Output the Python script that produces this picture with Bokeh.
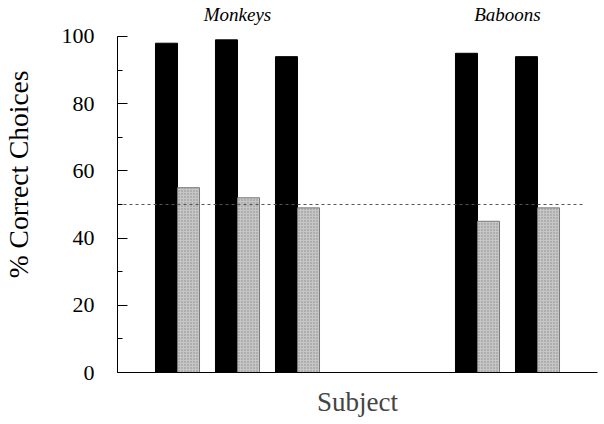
import numpy as np
from bokeh.plotting import figure
from bokeh.models import Range1d, SingleIntervalTicker, FixedTicker, ColumnDataSource, Title
from bokeh.embed import file_html
from bokeh.resources import INLINE

# ---- data ----
groups = ["Monkeys", "Baboons"]
monkey_subjects = ["M1", "M2", "M3"]
baboon_subjects = ["B1", "B2"]
condition_a = [98, 99, 94, 95, 94]   # black bars
condition_b = [55, 52, 49, 45, 49]   # stippled bars
chance_level = 50
y_ticks = [0, 20, 40, 60, 80, 100]

# ---- layout (subject slots, two empty slots between groups) ----
gap_slots = 2
n_m, n_b = len(monkey_subjects), len(baboon_subjects)
x_m = np.arange(1, n_m + 1)
x_b = np.arange(n_m + gap_slots + 1, n_m + gap_slots + 1 + n_b)
xs = np.concatenate([x_m, x_b]).astype(float)
bar_w = 0.367

src = ColumnDataSource(dict(
    subject=monkey_subjects + baboon_subjects,
    xa=xs - bar_w / 2, xb=xs + bar_w / 2,
    a=condition_a, b=condition_b,
))

SERIF = "Liberation Serif"

p = figure(width=604, height=424, output_backend="svg", toolbar_location=None,
           x_range=Range1d(0, 8), y_range=Range1d(0, 110.71),
           min_border_left=117, min_border_right=7, min_border_top=0,
           min_border_bottom=52)
p.outline_line_color = None
p.grid.visible = False
p.background_fill_color = "white"

p.vbar(x="xa", top="a", width=bar_w, source=src, fill_color="black",
       line_color="black")
p.vbar(x="xb", top="b", width=bar_w, source=src, fill_color="#c6c6c6",
       line_color="#7a7a7a", line_width=1,
       hatch_pattern="dot", hatch_color="#8a8a8a", hatch_scale=3, hatch_weight=1)

# chance line
p.line(x=[0, xs[-1] + 0.77], y=[chance_level, chance_level], line_color="#555555",
       line_dash="3 3", line_width=1)

# group labels
gx = [float(np.mean(x_m)), float(np.mean(x_b))]
p.text(x=gx, y=[106.5, 106.5], text=groups, text_font={"value": SERIF},
       text_font_style="italic", text_font_size="19px", text_align="center",
       text_baseline="middle", text_color="black")

# y axis
ya = p.yaxis[0]
ya.ticker = SingleIntervalTicker(interval=20, num_minor_ticks=2)
ya.bounds = (0, 100)
ya.major_tick_in = 10
ya.major_tick_out = 0
ya.minor_tick_in = 5
ya.minor_tick_out = 0
ya.major_label_standoff = 23
ya.major_label_text_font = SERIF
ya.major_label_text_font_size = "22px"
ya.major_label_text_color = "black"
ya.axis_line_color = "black"
ya.major_tick_line_color = "black"
ya.minor_tick_line_color = "black"

# spacer between tick labels and the rotated y label
p.add_layout(Title(text=" ", standoff=0, text_font_size="19px"), "left")
p.add_layout(Title(text="% Correct Choices", align="right", offset=70,
                   vertical_align="top", standoff=0,
                   text_font=SERIF, text_font_size="27.5px", text_font_style="normal",
                   text_color="black"), "left")

# x axis
xa = p.xaxis[0]
xa.ticker = FixedTicker(ticks=[])
xa.major_tick_line_color = None
xa.minor_tick_line_color = None
xa.axis_label = "Subject"
xa.axis_label_text_font = SERIF
xa.axis_label_text_font_style = "normal"
xa.axis_label_text_font_size = "27px"
xa.axis_label_standoff = 14
xa.axis_line_color = "black"

open("out.html", "w").write(file_html(p, INLINE))
